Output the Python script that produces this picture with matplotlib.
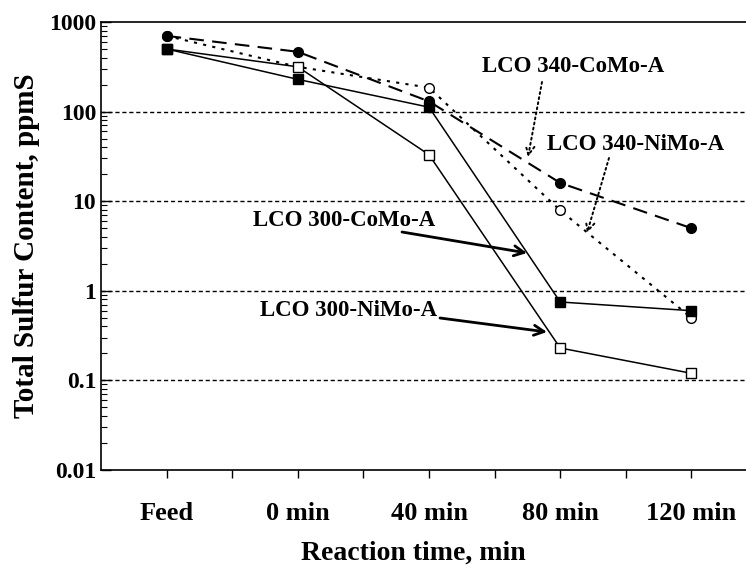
import numpy as np
import matplotlib
matplotlib.use('Agg')
import matplotlib.pyplot as plt
from matplotlib.ticker import FixedLocator, NullFormatter, LogLocator

plt.rcParams['font.family'] = ['Liberation Serif', 'DejaVu Serif']
plt.rcParams['font.weight'] = 'bold'

categories = ['Feed', '0 min', '40 min', '80 min', '120 min']
como_340 = [700, 465, 130, 16, 5.0]
nimo_340 = [700, 316, 185, 7.9, 0.5]
como_300 = [500, 229, 112, 0.75, 0.6]
nimo_300 = [500, 316, 33, 0.23, 0.12]

W, H = 746, 566
fig = plt.figure(figsize=(W / 100, H / 100), dpi=100)
# axes box in pixels: left 101, right 757 (right spine falls off the picture), top 22, bottom 470
L, R, T, B = 101, 757, 22, 470
ax = fig.add_axes([L / W, 1 - B / H, (R - L) / W, (B - T) / H])

x = np.arange(len(categories))
ax.plot(x, nimo_340, color='k', ls=(0, (1.5, 3)), lw=1.5, marker='o', ms=7, mfc='white', mec='k')
ax.plot(x, como_340, color='k', ls=(0, (7, 4)), lw=1.5, marker='o', ms=7, mfc='k', mec='k')
ax.plot(x, nimo_300, color='k', ls='-', lw=1.1, marker='s', ms=7, mfc='white', mec='k')
ax.plot(x, como_300, color='k', ls='-', lw=1.1, marker='s', ms=7, mfc='k', mec='k')

ax.set_yscale('log')
ax.set_ylim(0.01, 1000)
ax.set_xlim(-0.5, 4.5)
for g in [0.1, 1, 10, 100]:
    ax.axhline(g, color='k', ls=(0, (3, 2)), lw=1, zorder=0)

ax.set_yticks([0.01, 0.1, 1, 10, 100, 1000])
ax.set_yticklabels(['0.01', '0.1', '1', '10', '100', '1000'])
ax.yaxis.set_minor_locator(LogLocator(base=10, subs=np.arange(2, 10)))
ax.yaxis.set_minor_formatter(NullFormatter())
ax.tick_params(axis='y', which='major', direction='in', length=7, width=1, labelsize=17)
ax.tick_params(axis='y', which='minor', direction='in', length=4, width=0.8)

ax.set_xticks(x)
ax.set_xticklabels(categories)
ax.xaxis.set_minor_locator(FixedLocator(np.arange(0.5, 4.5, 1.0)))
ax.tick_params(axis='x', which='both', direction='out', length=6, width=1, labelsize=19, pad=17)

ax.set_ylabel('Total Sulfur Content, ppmS', fontsize=21, fontweight='bold')
ax.set_xlabel('Reaction time, min', fontsize=20, fontweight='bold')
ax.xaxis.set_label_coords((413 - L) / (R - L), -(541 - B) / (B - T))
ax.yaxis.set_label_coords(-(L - 40) / (R - L), 0.5)
for s in ax.spines.values():
    s.set_linewidth(1.2)

def af(px, py):
    return ((px - L) / (R - L), (B - py) / (B - T))

txt = dict(fontsize=16.5, fontweight='bold', va='center', ha='left', xycoords='axes fraction')
ax.annotate('LCO 340-CoMo-A', xy=af(482, 67), **txt)
ax.annotate('LCO 340-NiMo-A', xy=af(547, 145), **txt)
ax.annotate('LCO 300-CoMo-A', xy=af(253, 220), **txt)
ax.annotate('LCO 300-NiMo-A', xy=af(260, 310), **txt)

dotted = dict(arrowstyle='->', ls=':', lw=1.4, color='k', mutation_scale=16, shrinkA=0, shrinkB=0)
solid = dict(arrowstyle='->', lw=2, color='k', mutation_scale=18, shrinkA=0, shrinkB=0)
ax.annotate('', xy=af(528, 157), xytext=af(542, 82), xycoords='axes fraction',
            textcoords='axes fraction', arrowprops=dotted)
ax.annotate('', xy=af(587, 233), xytext=af(609, 158), xycoords='axes fraction',
            textcoords='axes fraction', arrowprops=dotted)
ax.annotate('', xy=af(527, 253), xytext=af(402, 232), xycoords='axes fraction',
            textcoords='axes fraction', arrowprops=solid)
ax.annotate('', xy=af(547, 332), xytext=af(440, 318), xycoords='axes fraction',
            textcoords='axes fraction', arrowprops=solid)

fig.savefig('out.png', dpi=100)
